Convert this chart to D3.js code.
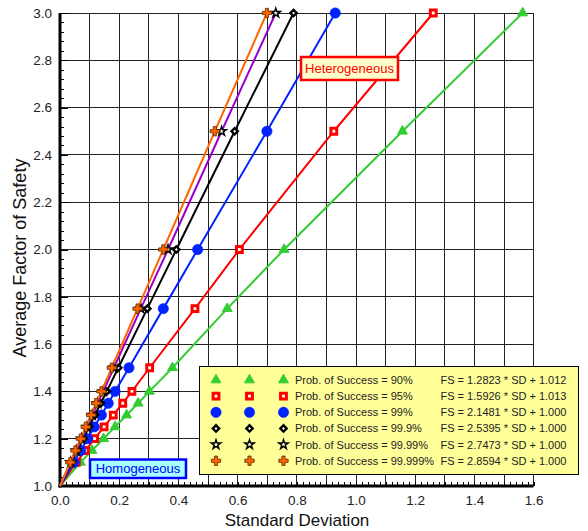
<!DOCTYPE html>
<html><head><meta charset="utf-8">
<script src="https://cdn.jsdelivr.net/npm/d3@7"></script>
<style>body{margin:0;background:#fff} svg{display:block;font-family:Arial,"Liberation Sans",sans-serif}</style>
</head><body><svg id="c" width="588" height="531"></svg>
<script>
// ---- data ----
const fsLevels = [1.0, 1.1, 1.15, 1.2, 1.25, 1.3, 1.35, 1.4, 1.5, 1.75, 2.0, 2.5, 3.0];
const sd90    = [0, 0.069, 0.108, 0.147, 0.186, 0.225, 0.264, 0.302, 0.380, 0.565, 0.757, 1.157, 1.563];
const sd95    = [0, 0.055, 0.086, 0.117, 0.149, 0.180, 0.212, 0.243, 0.303, 0.456, 0.606, 0.925, 1.261];
const sd99    = [0, 0.047, 0.070, 0.093, 0.116, 0.140, 0.163, 0.186, 0.233, 0.349, 0.465, 0.699, 0.930];
const sd999   = [0, 0.039, 0.059, 0.079, 0.098, 0.118, 0.138, 0.158, 0.197, 0.295, 0.393, 0.590, 0.789];
const sd9999  = [0, 0.036, 0.055, 0.073, 0.091, 0.109, 0.127, 0.146, 0.182, 0.273, 0.365, 0.546, 0.729];
const sd99999 = [0, 0.035, 0.052, 0.070, 0.087, 0.105, 0.122, 0.140, 0.175, 0.262, 0.349, 0.523, 0.699];
const seriesNames = ["Prob. of Success = 90%", "Prob. of Success = 95%", "Prob. of Success = 99%",
                     "Prob. of Success = 99.9%", "Prob. of Success = 99.99%", "Prob. of Success = 99.999%"];
const equations = ["FS = 1.2823 * SD + 1.012", "FS = 1.5926 * SD + 1.013", "FS = 2.1481 * SD + 1.000",
                   "FS = 2.5395 * SD + 1.000", "FS = 2.7473 * SD + 1.000", "FS = 2.8594 * SD + 1.000"];
const xTickLabels = [0.0, 0.2, 0.4, 0.6, 0.8, 1.0, 1.2, 1.4, 1.6];
const yTickLabels = [1.0, 1.2, 1.4, 1.6, 1.8, 2.0, 2.2, 2.4, 2.6, 2.8, 3.0];

// ---- styles ----
const styles = [
  {line:"#33CC33", sym:d3.symbolTriangle, size:42, fill:"#33CC33", stroke:"#33CC33", sw:1, rot:0},
  {line:"#FF0000", sym:d3.symbolSquare,   size:34, fill:"#FFFFF0", stroke:"#FF0000", sw:3, rot:0},
  {line:"#0022FF", sym:d3.symbolCircle,   size:85, fill:"#0022FF", stroke:"#0022FF", sw:0.5, rot:0},
  {line:"#000000", sym:d3.symbolSquare,   size:20, fill:"#FFFFFF", stroke:"#000000", sw:2.4, rot:45},
  {line:"#9900CC", sym:d3.symbolStar,     size:26, fill:"#FFFFFF", stroke:"#000000", sw:1.5, rot:0},
  {line:"#FF6600", sym:d3.symbolCross,    size:48, fill:"#FF6600", stroke:"#663300", sw:0.9, rot:0}
];
const allSD = [sd90, sd95, sd99, sd999, sd9999, sd99999];

const svg = d3.select("#c");
const x = d3.scaleLinear().domain([0, 1.6]).range([60, 533.6]);
const y = d3.scaleLinear().domain([1, 3]).range([486, 13]);

// grid
const grid = svg.append("g");
grid.selectAll("line.v").data(d3.range(1, 17).map(i => i / 10)).enter().append("line")
  .attr("x1", d => x(d)).attr("x2", d => x(d)).attr("y1", y(1)).attr("y2", y(3))
  .attr("stroke", "#222").attr("stroke-width", 1).attr("shape-rendering", "crispEdges");
grid.selectAll("line.h").data(yTickLabels.slice(1)).enter().append("line")
  .attr("x1", x(0)).attr("x2", x(1.6)).attr("y1", d => y(d)).attr("y2", d => y(d))
  .attr("stroke", "#222").attr("stroke-width", 1).attr("shape-rendering", "crispEdges");

// minor ticks
const yMinor = d3.axisRight(y).tickValues(d3.range(0, 51).map(i => 1 + i * 0.04)).tickSize(4).tickFormat("");
const gym = svg.append("g").attr("transform", `translate(${x(0)},0)`).call(yMinor);
const yMajor = d3.axisRight(y).tickValues(yTickLabels).tickSize(8).tickFormat("");
const gyM = svg.append("g").attr("transform", `translate(${x(0)},0)`).call(yMajor);
const xMinor = d3.axisTop(x).tickValues(d3.range(0, 81).map(i => i * 0.02)).tickSize(4).tickFormat("");
const gxm = svg.append("g").attr("transform", `translate(0,${y(1)})`).call(xMinor);
[gym, gyM, gxm].forEach(g => { g.select(".domain").remove(); g.selectAll("line").attr("stroke", "#000").attr("shape-rendering", "crispEdges"); });

// labels
const yAx = d3.axisLeft(y).tickValues(yTickLabels).tickSize(0).tickPadding(8).tickFormat(d3.format(".1f"));
const gyl = svg.append("g").attr("transform", `translate(${x(0)},0)`).call(yAx);
const xAx = d3.axisBottom(x).tickValues(xTickLabels).tickSize(0).tickPadding(9).tickFormat(d3.format(".1f"));
const gxl = svg.append("g").attr("transform", `translate(0,${y(1)})`).call(xAx);
[gyl, gxl].forEach(g => { g.select(".domain").remove(); g.selectAll("text").attr("font-size", 13.5).attr("fill", "#222").attr("font-family", "Arial, Liberation Sans, sans-serif"); });

// axis lines (thick)
svg.append("line").attr("x1", x(0)).attr("x2", x(0)).attr("y1", y(3)).attr("y2", y(1) + 1.5)
  .attr("stroke", "#000").attr("stroke-width", 3);
svg.append("line").attr("x1", x(0) - 1.5).attr("x2", x(1.6)).attr("y1", y(1)).attr("y2", y(1))
  .attr("stroke", "#000").attr("stroke-width", 3);

// series
const lineGen = d3.line().x(d => x(d[0])).y(d => y(d[1]));
allSD.forEach((sd, i) => {
  const st = styles[i];
  const pts = sd.map((v, j) => [v, fsLevels[j]]);
  const g = svg.append("g");
  g.append("path").attr("d", lineGen(pts)).attr("fill", "none").attr("stroke", st.line).attr("stroke-width", 2);
  g.selectAll("path.m").data(pts.filter(p => p[0] > 0)).enter().append("path")
    .attr("d", d3.symbol().type(st.sym).size(st.size))
    .attr("transform", d => `translate(${x(d[0])},${y(d[1])}) rotate(${st.rot})`)
    .attr("fill", st.fill).attr("stroke", st.stroke).attr("stroke-width", st.sw);
});

// annotation boxes
function box(x0, y0, w, h, fill, stroke, text, color) {
  svg.append("rect").attr("x", x0).attr("y", y0).attr("width", w).attr("height", h)
    .attr("fill", fill).attr("stroke", stroke).attr("stroke-width", 2.5);
  svg.append("text").attr("x", x0 + w / 2).attr("y", y0 + h / 2 + 4.7).attr("text-anchor", "middle")
    .attr("font-size", 13).attr("fill", color).text(text);
}
box(301, 57, 97, 23, "#FFFFCC", "#FF0000", "Heterogeneous", "#FF0000");
box(90, 459.5, 96, 18.5, "#A8FFFF", "#0000FF", "Homogeneous", "#0000FF");

// legend
const lg = svg.append("g");
lg.append("rect").attr("x", 199.5).attr("y", 366.5).attr("width", 379).attr("height", 108)
  .attr("fill", "#FFFF99").attr("stroke", "#000").attr("stroke-width", 1);
const rowY = i => 380 + i * 16.15;
seriesNames.forEach((name, i) => {
  const st = styles[i];
  [216, 249.5, 283.5].forEach(cx => {
    lg.append("path").attr("d", d3.symbol().type(st.sym).size(st.size))
      .attr("transform", `translate(${cx},${rowY(i)}) rotate(${st.rot})`)
      .attr("fill", st.fill).attr("stroke", st.stroke).attr("stroke-width", st.sw);
  });
  lg.append("text").attr("x", 295).attr("y", rowY(i) + 4).attr("font-size", 11).attr("fill", "#222").text(name);
  lg.append("text").attr("x", 440.5).attr("y", rowY(i) + 4).attr("font-size", 11).attr("fill", "#222").text(equations[i]);
});

// axis titles
svg.append("text").attr("x", 297).attr("y", 526).attr("text-anchor", "middle")
  .attr("font-size", 17).attr("fill", "#111").text("Standard Deviation");
svg.append("text").attr("transform", "translate(26,258) rotate(-90)").attr("text-anchor", "middle")
  .attr("font-size", 18).attr("fill", "#111").text("Average Factor of Safety");
</script></body></html>
